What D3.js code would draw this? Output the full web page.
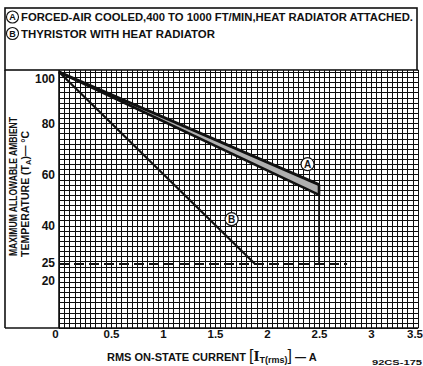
<!DOCTYPE html>
<html><head><meta charset="utf-8">
<script src="https://cdn.jsdelivr.net/npm/d3@7"></script>
<style>
html,body{margin:0;padding:0;background:#fff;}
svg{display:block;}
text{font-family:"Liberation Sans","DejaVu Sans",sans-serif;font-weight:bold;fill:#111;}
</style></head>
<body>
<script>
// ---- data ----
const legendKeys = ["A", "B"];
const legendTexts = [
  "FORCED-AIR COOLED,400 TO 1000 FT/MIN,HEAT RADIATOR ATTACHED.",
  "THYRISTOR WITH HEAT RADIATOR"
];
const aCurrent = [0, 2.5];
const aTempUpper = [100, 56];
const aTempLower = [100, 52];
const aDropCurrent = [2.5, 2.5];
const aDropTemp = [52, 25];
const bCurrent = [0, 1.885];
const bTemp = [100, 25];
const refCurrent = [0, 2.77];
const refTemp = [25, 25];
const labelCurrent = [2.39, 1.66];
const labelTemp = [64, 42.5];
const xTicks = [0, 0.5, 1, 1.5, 2, 2.5, 3, 3.5];
const xTickLabels = ["0", "0.5", "1", "1.5", "2", "2.5", "3", "3.5"];
const yTicks = [20, 25, 40, 60, 80, 100];
const yTickLabels = ["20", "25", "40", "60", "80", "100"];

// ---- layout ----
const W = 423, H = 366;
const svg = d3.select("body").append("svg").attr("width", W).attr("height", H);
const x = d3.scaleLinear().domain([0, 3.5]).range([59, 423]);
const y = d3.scaleLinear().domain([0, 100]).range([328, 72]);
const gridMaxX = 3.455, gridMaxY = 100.8;

// grid
const g = svg.append("g").attr("shape-rendering", "crispEdges");
const vLines = d3.range(0, gridMaxX + 1e-9, 0.05);
const hLines = d3.range(0, gridMaxY, 2);
g.selectAll("line.v").data(vLines).join("line")
  .attr("x1", d => Math.round(x(d)) + 0.5).attr("x2", d => Math.round(x(d)) + 0.5)
  .attr("y1", y(0)).attr("y2", y(gridMaxY))
  .attr("stroke", "#0d0d0d").attr("stroke-width", 1);
g.selectAll("line.h").data(hLines).join("line")
  .attr("x1", x(0)).attr("x2", x(gridMaxX))
  .attr("y1", d => Math.round(y(d)) + 0.5).attr("y2", d => Math.round(y(d)) + 0.5)
  .attr("stroke", "#0d0d0d").attr("stroke-width", 1);

// frame
const frame = svg.append("g").attr("fill", "none").attr("stroke", "#111").attr("stroke-width", 1.6);
frame.append("rect").attr("x", 5).attr("y", 8).attr("width", 412).attr("height", 62);
frame.append("line").attr("x1", 5).attr("x2", 5).attr("y1", 70).attr("y2", 328);
frame.append("line").attr("x1", 5).attr("x2", x(gridMaxX)).attr("y1", 328).attr("y2", 328);
frame.append("line").attr("x1", x(0)).attr("x2", x(0)).attr("y1", 70).attr("y2", 328);
frame.append("line").attr("x1", 417).attr("x2", x(gridMaxX)).attr("y1", 70).attr("y2", 70);

// reference dashed line at 25 C
const line = d3.line().x(d => x(d[0])).y(d => y(d[1]));
svg.append("path")
  .attr("d", line(d3.zip(refCurrent, refTemp)))
  .attr("fill", "none").attr("stroke", "#111").attr("stroke-width", 1.8)
  .attr("stroke-dasharray", "10,5");

// curve A band
const bandPts = d3.zip(aCurrent, aTempUpper).concat(d3.zip(aCurrent, aTempLower).reverse());
svg.append("path").attr("d", line(bandPts) + "Z")
  .attr("fill", "#b0b0b0").attr("stroke", "none");
svg.append("path").attr("d", line(d3.zip(aCurrent, aTempUpper)))
  .attr("fill", "none").attr("stroke", "#111").attr("stroke-width", 2.8);
svg.append("path").attr("d", line(d3.zip(aCurrent, aTempLower)))
  .attr("fill", "none").attr("stroke", "#111").attr("stroke-width", 2.6);
svg.append("path").attr("d", line(d3.zip(aDropCurrent, [aTempUpper[1], aDropTemp[0]])))
  .attr("fill", "none").attr("stroke", "#111").attr("stroke-width", 2.6);
svg.append("path").attr("d", line(d3.zip(aDropCurrent, aDropTemp)))
  .attr("fill", "none").attr("stroke", "#111").attr("stroke-width", 1.6);

// curve B
svg.append("path").attr("d", line(d3.zip(bCurrent, bTemp)))
  .attr("fill", "none").attr("stroke", "#111").attr("stroke-width", 2.2);

// curve labels (circled letters)
const labs = svg.append("g");
legendKeys.forEach((k, i) => {
  const cx = x(labelCurrent[i]), cy = y(labelTemp[i]);
  labs.append("circle").attr("cx", cx).attr("cy", cy).attr("r", 6.5)
    .attr("fill", "#fff").attr("stroke", "#111").attr("stroke-width", 1.2);
  labs.append("text").attr("x", cx).attr("y", cy + 3.6).attr("text-anchor", "middle")
    .attr("font-size", 10).text(k);
});

// legend
legendKeys.forEach((k, i) => {
  const cy = 17 + i * 16.5;
  svg.append("circle").attr("cx", 12.5).attr("cy", cy).attr("r", 6)
    .attr("fill", "#fff").attr("stroke", "#111").attr("stroke-width", 1.1);
  svg.append("text").attr("x", 12.5).attr("y", cy + 3.3).attr("text-anchor", "middle")
    .attr("font-size", 9).text(k);
  svg.append("text").attr("x", 21).attr("y", cy + 4.2).attr("font-size", 11.5)
    .attr("textLength", i === 0 ? 392 : 194).attr("lengthAdjust", "spacingAndGlyphs")
    .text(legendTexts[i]);
});

// axes
const xAxis = d3.axisBottom(x).tickValues(xTicks).tickFormat((d, i) => xTickLabels[i]).tickSize(0).tickPadding(0);
const xa = svg.append("g").attr("transform", `translate(0,${330})`).call(xAxis);
xa.select(".domain").remove();
xa.selectAll("text").attr("font-size", 11.5).attr("dy", "0.71em")
  .style("font-family", '"Liberation Sans","DejaVu Sans",sans-serif').style("font-weight", "bold").attr("fill", "#111");
xa.selectAll(".tick").filter(d => d === 0).select("text").attr("dx", -4);
xa.selectAll(".tick").filter(d => d === 3.5).select("text").attr("text-anchor", "end").attr("dx", -0.5);

const yAxis = d3.axisLeft(y).tickValues(yTicks).tickFormat((d, i) => yTickLabels[i]).tickSize(0).tickPadding(4);
const ya = svg.append("g").attr("transform", `translate(${x(0)},0)`).call(yAxis);
ya.select(".domain").remove();
ya.selectAll("text").attr("font-size", 12)
  .style("font-family", '"Liberation Sans","DejaVu Sans",sans-serif').style("font-weight", "bold").attr("fill", "#111");
ya.selectAll(".tick").filter(d => d === 100).select("text").attr("dy", "0.9em");
ya.selectAll(".tick").filter(d => d === 20).select("text").attr("dy", "0.65em");
ya.selectAll(".tick").filter(d => d === 25).select("text").attr("dy", "0.2em");

// axis titles
svg.append("text").attr("transform", "translate(17,256) rotate(-90)")
  .attr("font-size", 10.5).attr("textLength", 139).attr("lengthAdjust", "spacingAndGlyphs")
  .text("MAXIMUM ALLOWABLE AMBIENT");
const t2 = svg.append("text").attr("transform", "translate(29,257) rotate(-90)").attr("font-size", 10.5);
t2.append("tspan").text("TEMPERATURE (T");
t2.append("tspan").attr("font-size", 7.5).attr("dy", 2).text("A");
t2.append("tspan").attr("dy", -2).text(")— °C");

const xt = svg.append("text").attr("x", 107).attr("y", 361).attr("font-size", 11);
xt.append("tspan").text("RMS ON-STATE CURRENT ");
xt.append("tspan").attr("font-size", 16).attr("font-weight", "normal").text("[");
xt.append("tspan").attr("font-size", 13).attr("font-family", "DejaVu Serif").text("I");
xt.append("tspan").attr("font-size", 9).attr("dy", 2).text("T(rms)");
xt.append("tspan").attr("font-size", 16).attr("font-weight", "normal").attr("dy", -2).text("]");
xt.append("tspan").text(" — A");

svg.append("text").attr("x", 372).attr("y", 365).attr("font-size", 8).attr("font-weight", "normal")
  .attr("textLength", 50).attr("lengthAdjust", "spacingAndGlyphs").text("92CS-175");
</script>
</body></html>
